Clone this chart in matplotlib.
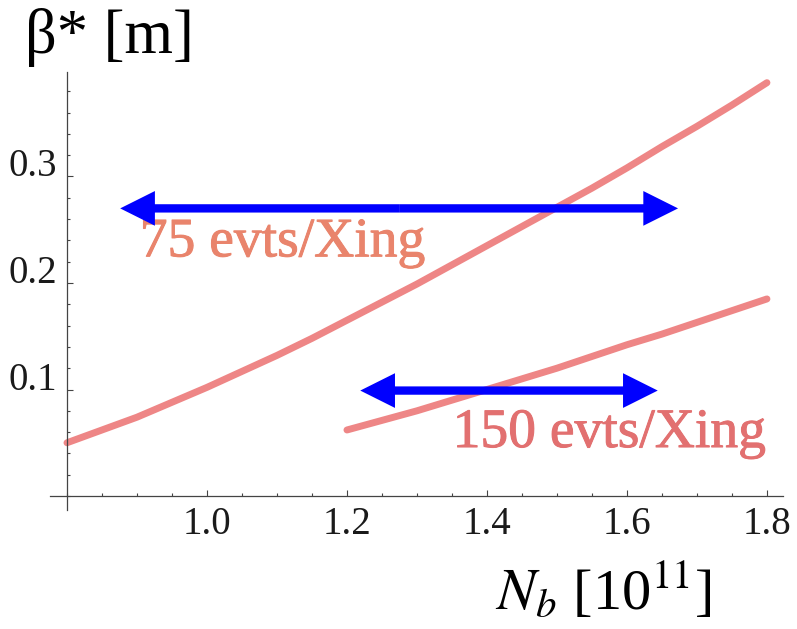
import matplotlib
matplotlib.use("Agg")
import matplotlib.pyplot as plt
import matplotlib.patheffects as pe
from matplotlib.ticker import FixedLocator, MultipleLocator

plt.rcParams["font.family"] = ["Liberation Serif", "DejaVu Serif"]
plt.rcParams["mathtext.fontset"] = "stix"

# --- values --------------------------------------------------------------
nb_75 = [0.80, 0.85, 0.90, 0.95, 1.00, 1.05, 1.10, 1.15, 1.20, 1.25, 1.30,
         1.35, 1.40, 1.45, 1.50, 1.55, 1.60, 1.65, 1.70, 1.75, 1.80]
beta_75 = [0.050, 0.062, 0.074, 0.088, 0.102, 0.117, 0.132, 0.148, 0.165, 0.182, 0.199,
           0.217, 0.235, 0.253, 0.271, 0.289, 0.308, 0.328, 0.347, 0.367, 0.388]

nb_150 = [1.20, 1.25, 1.30, 1.35, 1.40, 1.45, 1.50, 1.55, 1.60, 1.65, 1.70, 1.75, 1.80]
beta_150 = [0.062, 0.071, 0.080, 0.090, 0.100, 0.110, 0.120, 0.131, 0.142, 0.152,
            0.163, 0.174, 0.185]

# horizontal double arrows: (Nb from, Nb to, beta*)
arrow_75 = [0.876, 1.673, 0.270]
arrow_150 = [1.219, 1.644, 0.099]

labels = ["75 evts/Xing", "150 evts/Xing"]
label_pos = [(0.904, 0.225), (1.351, 0.046)]

x_ticks = [1.0, 1.2, 1.4, 1.6, 1.8]
y_ticks = [0.1, 0.2, 0.3]

CURVE = "#ee8686"
TEXT_COLORS = ["#e9846c", "#e27070"]
BLUE = "#0000ff"

fig = plt.figure(figsize=(7.97, 6.29), dpi=100)
ax = fig.add_axes([0.0627, 0.1892, 0.9197, 0.6963])
ax.set_xlim(0.7757, 1.8229)
ax.set_ylim(-0.0131, 0.398)

# Mathematica-style crossing axes
for side in ("top", "right"):
    ax.spines[side].set_visible(False)
ax.spines["left"].set_position(("data", 0.8))
ax.spines["bottom"].set_position(("data", 0.0))
for side in ("left", "bottom"):
    ax.spines[side].set_color("#444444")
    ax.spines[side].set_linewidth(0.9)

ax.xaxis.set_major_locator(FixedLocator(x_ticks))
ax.xaxis.set_minor_locator(MultipleLocator(0.05))
ax.yaxis.set_major_locator(FixedLocator(y_ticks))
ax.yaxis.set_minor_locator(MultipleLocator(0.02))
ax.set_xticklabels([f"{v:.1f}" for v in x_ticks])
ax.set_yticklabels([f"{v:.1f}" for v in y_ticks])
ax.tick_params(which="both", direction="in", color="#444444", width=0.8,
               labelsize=28, labelcolor="#1a1a1a")
ax.tick_params(which="major", length=4)
ax.tick_params(which="minor", length=2.5)
ax.tick_params(axis="x", pad=7)
ax.tick_params(axis="y", pad=7)
for t in ax.get_yticklabels():
    t.set_va("baseline")

# curves
ax.plot(nb_75, beta_75, color=CURVE, lw=5, solid_capstyle="round",
        solid_joinstyle="round", zorder=2)
ax.plot(nb_150, beta_150, color=CURVE, lw=5, solid_capstyle="round",
        solid_joinstyle="round", zorder=2)

# labels (slightly heavier strokes, like the blurred original)
for txt, (x, y), c in zip(labels, label_pos, TEXT_COLORS):
    ax.text(x, y, txt, color=c, fontsize=40, va="baseline", ha="left", zorder=3,
            path_effects=[pe.withStroke(linewidth=0.7, foreground=c)])

# blue double-headed arrows, drawn as two filled arrows from the middle
style = "simple,head_length=25,head_width=25,tail_width=6"
for x0, x1, y in (arrow_75, arrow_150):
    mid = (x0 + x1) / 2
    for tip in (x0, x1):
        ax.annotate("", xy=(tip, y), xytext=(mid, y),
                    arrowprops=dict(arrowstyle=style, mutation_scale=1,
                                    color=BLUE, lw=0, shrinkA=0, shrinkB=0),
                    zorder=4)

# axis titles, placed like the reference (top-left and bottom-right)
fig.text(0.0314, 0.9157, "β* [m]", fontsize=45, va="baseline", ha="left")
fig.text(0.621, 0.0302, r"$N_b$ [10$^{11}$]", fontsize=42, va="baseline", ha="left")

fig.savefig("out.png", dpi=100)
